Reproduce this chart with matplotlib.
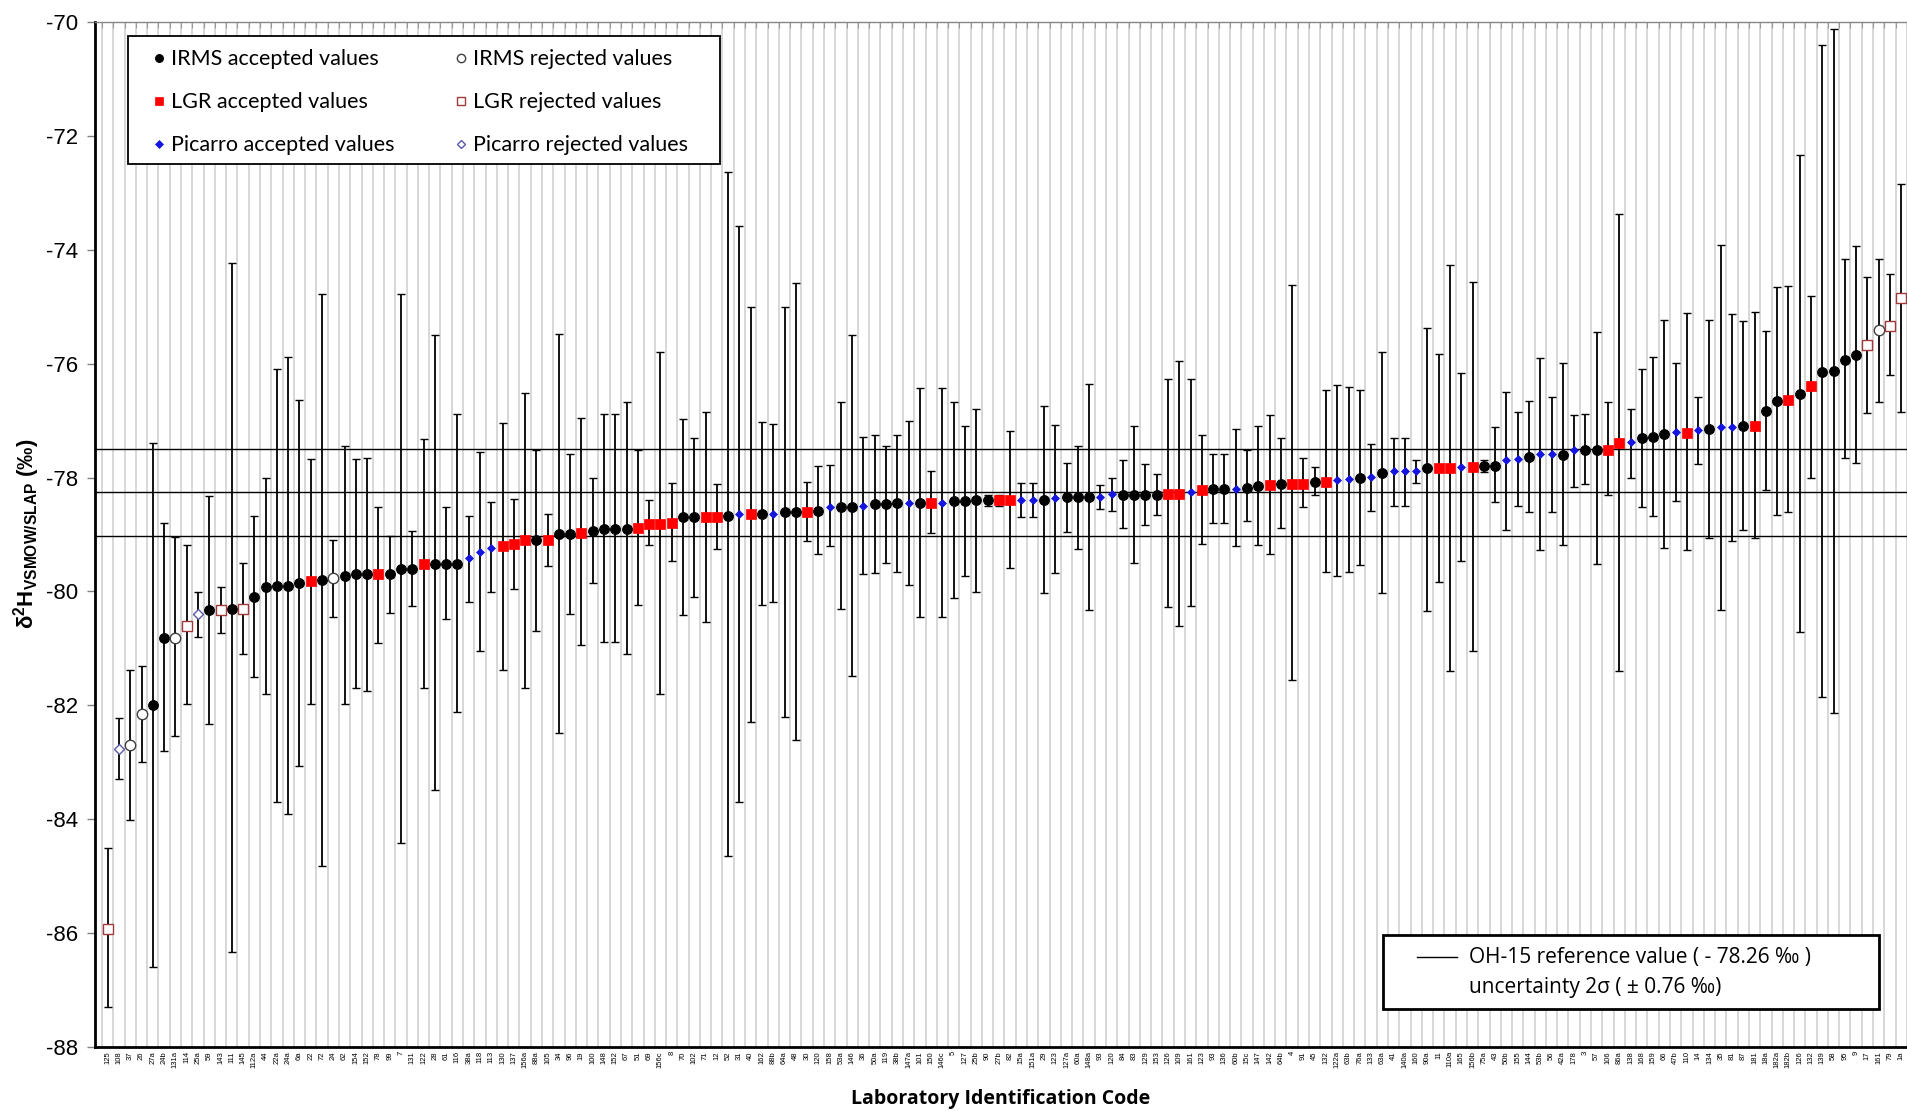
import numpy as np
import matplotlib
matplotlib.use('Agg')
import matplotlib.pyplot as plt
from matplotlib.lines import Line2D
from matplotlib.patches import Rectangle

plt.rcParams['axes.unicode_minus'] = False
plt.rcParams['font.family'] = ['Liberation Sans', 'DejaVu Sans']
plt.rcParams['mathtext.fontset'] = 'custom'
plt.rcParams['mathtext.rm'] = 'Liberation Sans'
plt.rcParams['mathtext.bf'] = 'Liberation Sans:bold'
plt.rcParams['mathtext.it'] = 'Liberation Sans:italic'

# ---------------- data ----------------
lab_codes = ["125", "108", "37", "26", "27a", "24b", "131a", "114", "25a", "59",
             "143", "111", "145", "112a", "44", "22a", "24a", "6a", "22", "72",
             "24", "62", "154", "152", "78", "99", "7", "131", "122", "28",
             "61", "116", "38a", "118", "113", "130", "137", "156a", "88a", "105",
             "34", "96", "19", "100", "148", "152", "67", "51", "69", "156c",
             "8", "70", "102", "71", "12", "52", "31", "40", "162", "88b",
             "64a", "48", "30", "120", "158", "53a", "146", "36", "50a", "119",
             "38b", "147a", "101", "150", "146c", "5", "127", "25b", "90", "27b",
             "82", "15a", "151a", "29", "123", "127a", "60a", "148a", "93", "120",
             "84", "83", "129", "153", "126", "109", "161", "123", "93", "136",
             "60b", "15c", "147", "142", "64b", "4", "91", "45", "132", "122a",
             "63b", "76a", "133", "63a", "41", "140a", "160", "90a", "11", "110a",
             "165", "156b", "75a", "43", "50b", "155", "144", "53b", "56", "42a",
             "178", "3", "57", "106", "86a", "138", "168", "159", "66", "47b",
             "110", "14", "134", "35", "81", "87", "181", "18a", "182a", "182b",
             "126", "132", "139", "58", "95", "9", "17", "161", "79", "1a"]

# group: I=IRMS, L=LGR, P=Picarro ; A=accepted, R=rejected
groups = ("LR PR IR IR IA IA IR LR PR IA "
          "LR IA LR IA IA IA IA IA LA IA "
          "IR IA IA IA LA IA IA IA LA IA "
          "IA IA PA PA PA LA LA LA IA LA "
          "IA IA LA IA IA IA IA LA LA LA "
          "LA IA IA LA LA IA PA LA IA PA "
          "IA IA LA IA PA IA IA PA IA IA "
          "IA PA IA LA PA IA IA IA IA LA "
          "LA PA PA IA PA IA IA IA PA PA "
          "IA IA IA IA LA LA PA LA IA IA "
          "PA IA IA LA IA LA LA IA LA PA "
          "PA IA PA IA PA PA PA IA LA LA "
          "PA LA IA IA PA PA IA PA PA IA "
          "PA IA IA LA LA PA IA IA IA PA "
          "LA PA IA PA PA IA LA IA IA LA "
          "IA LA IA IA IA IA LR IR LR LR").split()

values = [-85.92, -82.76, -82.69, -82.15, -82.00, -80.81, -80.81, -80.60, -80.39, -80.33,
          -80.33, -80.31, -80.31, -80.10, -79.92, -79.90, -79.90, -79.85, -79.82, -79.80,
          -79.76, -79.72, -79.70, -79.70, -79.70, -79.70, -79.61, -79.61, -79.51, -79.51,
          -79.51, -79.51, -79.41, -79.30, -79.23, -79.21, -79.16, -79.10, -79.10, -79.10,
          -78.99, -78.99, -78.97, -78.94, -78.91, -78.91, -78.91, -78.88, -78.81, -78.81,
          -78.79, -78.69, -78.69, -78.69, -78.69, -78.67, -78.64, -78.64, -78.64, -78.64,
          -78.60, -78.60, -78.60, -78.58, -78.51, -78.51, -78.51, -78.50, -78.46, -78.46,
          -78.44, -78.44, -78.44, -78.44, -78.44, -78.42, -78.42, -78.40, -78.40, -78.40,
          -78.40, -78.40, -78.40, -78.40, -78.36, -78.34, -78.34, -78.34, -78.34, -78.29,
          -78.30, -78.30, -78.30, -78.30, -78.28, -78.28, -78.25, -78.21, -78.20, -78.20,
          -78.20, -78.18, -78.15, -78.13, -78.11, -78.11, -78.11, -78.08, -78.08, -78.05,
          -78.03, -78.01, -77.99, -77.92, -77.88, -77.88, -77.88, -77.84, -77.84, -77.84,
          -77.81, -77.81, -77.80, -77.79, -77.70, -77.67, -77.64, -77.58, -77.58, -77.60,
          -77.51, -77.51, -77.51, -77.51, -77.40, -77.38, -77.31, -77.28, -77.24, -77.20,
          -77.22, -77.16, -77.14, -77.12, -77.12, -77.10, -77.09, -76.83, -76.66, -76.64,
          -76.53, -76.39, -76.15, -76.12, -75.93, -75.85, -75.68, -75.41, -75.33, -74.85]

bar_top = [-84.51, -82.23, -81.38, -81.31, -77.39, -78.80, -79.04, -79.19, -80.01, -78.32,
           -79.92, -74.24, -79.50, -78.68, -78.00, -76.09, -75.88, -76.63, -77.68, -74.78,
           -79.10, -77.45, -77.68, -77.66, -78.51, -79.02, -74.78, -78.94, -77.32, -75.49,
           -78.51, -76.89, -78.68, -77.55, -78.43, -77.04, -78.37, -76.52, -77.52, -78.64,
           -75.48, -77.59, -76.96, -78.00, -76.89, -76.89, -76.68, -77.52, -78.39, -75.80,
           -78.10, -76.98, -77.30, -76.84, -78.12, -72.63, -73.59, -75.00, -77.02, -77.06,
           -75.00, -74.59, -78.07, -77.80, -77.78, -76.68, -75.50, -77.29, -77.26, -77.44,
           -77.26, -77.00, -76.43, -77.88, -76.43, -76.68, -77.09, -76.79, -78.30, -78.30,
           -77.18, -78.10, -78.10, -76.75, -77.08, -77.74, -77.44, -76.35, -78.13, -78.01,
           -77.69, -77.09, -77.76, -77.93, -76.27, -75.95, -76.27, -77.26, -77.59, -77.59,
           -77.14, -77.52, -77.09, -76.90, -77.30, -74.62, -77.66, -77.82, -76.47, -76.38,
           -76.41, -76.47, -77.41, -75.80, -77.30, -77.30, -77.69, -75.37, -75.83, -74.26,
           -76.16, -74.57, -77.70, -77.11, -76.50, -76.84, -76.65, -75.90, -76.59, -75.99,
           -76.91, -76.89, -75.44, -76.68, -73.37, -76.79, -76.09, -75.88, -75.23, -75.99,
           -75.11, -76.58, -75.24, -73.91, -75.12, -75.25, -75.09, -75.43, -74.65, -74.63,
           -72.33, -74.82, -70.41, -70.12, -74.17, -73.93, -74.47, -74.17, -74.43, -72.84]

bar_bottom = [-87.30, -83.29, -84.01, -82.99, -86.60, -82.81, -82.54, -81.98, -80.80, -82.33,
              -80.73, -86.34, -81.10, -81.51, -81.80, -83.70, -83.90, -83.06, -81.97, -84.82,
              -80.44, -81.98, -81.69, -81.74, -80.90, -80.37, -84.41, -80.25, -81.69, -83.49,
              -80.49, -82.11, -80.18, -81.05, -80.01, -81.38, -79.96, -81.69, -80.69, -79.55,
              -82.49, -80.39, -80.94, -79.86, -80.89, -80.89, -81.10, -80.23, -79.18, -81.80,
              -79.46, -80.42, -80.09, -80.54, -79.25, -84.65, -83.70, -82.30, -80.23, -80.19,
              -82.20, -82.60, -79.11, -79.35, -79.20, -80.30, -81.48, -79.69, -79.67, -79.50,
              -79.65, -79.89, -80.44, -78.98, -80.44, -80.12, -79.72, -80.01, -78.50, -78.50,
              -79.59, -78.69, -78.69, -80.03, -79.67, -78.95, -79.25, -80.32, -78.55, -78.59,
              -78.89, -79.50, -78.83, -78.65, -80.27, -80.60, -80.25, -79.16, -78.80, -78.80,
              -79.21, -78.77, -79.19, -79.35, -78.89, -81.55, -78.51, -78.31, -79.65, -79.72,
              -79.65, -79.53, -78.58, -80.03, -78.50, -78.50, -78.09, -80.34, -79.84, -81.40,
              -79.47, -81.05, -77.90, -78.43, -78.92, -78.50, -78.61, -79.28, -78.60, -79.19,
              -78.16, -78.12, -79.52, -78.31, -81.40, -78.00, -78.51, -78.67, -79.23, -78.41,
              -79.28, -77.76, -79.07, -80.33, -79.12, -78.92, -79.07, -78.21, -78.66, -78.61,
              -80.72, -78.00, -81.86, -82.13, -77.65, -77.74, -76.87, -76.67, -76.20, -76.84]

ref_value = -78.26
ref_unc = 0.76
y_ticks = [-70, -72, -74, -76, -78, -80, -82, -84, -86, -88]

legend_labels = {
    'IA': 'IRMS accepted values', 'IR': 'IRMS rejected values',
    'LA': 'LGR accepted values', 'LR': 'LGR rejected values',
    'PA': 'Picarro accepted values', 'PR': 'Picarro rejected values',
}

# ---------------- styles ----------------
styles = {
    'IA': dict(marker='o', ms=7.0, mfc='black', mec='black', mew=0.8),
    'IR': dict(marker='o', ms=7.5, mfc='white', mec='#404040', mew=1.0),
    'LA': dict(marker='s', ms=7.2, mfc='#ff0000', mec='#ff0000', mew=0.5),
    'LR': dict(marker='s', ms=6.5, mfc='white', mec='#a03a3a', mew=1.0),
    'PA': dict(marker='D', ms=4.5, mfc='#1515e0', mec='#1515e0', mew=0.5),
    'PR': dict(marker='D', ms=5.5, mfc='white', mec='#5a5aa8', mew=1.0),
}

W, H = 1907, 1111
fig = plt.figure(figsize=(W / 100, H / 100), dpi=100)
ax_left, ax_right, ax_top, ax_bot = 95, 1907, 22, 1047
ax = fig.add_axes([ax_left / W, 1 - ax_bot / H, (ax_right - ax_left) / W, (ax_bot - ax_top) / H])

n = len(values)
x = np.arange(1, n + 1)
v = np.array(values)
top = np.array(bar_top)
bot = np.array(bar_bottom)

# vertical category gridlines
ax.set_xticks(np.arange(0.5, n + 1, 1.0), minor=True)
ax.grid(which='minor', axis='x', color='#d4d4d4', lw=1.3, zorder=0)
ax.set_axisbelow(True)

# reference lines
for yy in (ref_value + ref_unc, ref_value, ref_value - ref_unc):
    ax.axhline(yy, color='black', lw=1.0, zorder=2)

# error bars
ax.errorbar(x, v, yerr=[v - bot, top - v], fmt='none', ecolor='black',
            elinewidth=1.3, capsize=3.2, capthick=1.0, zorder=3)

# markers
g = np.array(groups)
for key in ['IA', 'IR', 'LA', 'LR', 'PA', 'PR']:
    m = g == key
    ax.plot(x[m], v[m], ls='none', zorder=4, **styles[key])

ax.set_xlim(-0.126, n + 0.51)
ax.set_ylim(-88, -70)
ax.set_yticks(y_ticks)
ax.set_yticklabels([str(t) for t in y_ticks], fontsize=16, family='Liberation Sans')
ax.set_xticks(x)
ax.set_xticklabels(lab_codes, rotation=90, fontsize=5.5, color='black')
ax.tick_params(axis='x', which='major', length=0, pad=3)
ax.tick_params(axis='x', which='minor', bottom=False, top=True, direction='in',
               length=4, color='#999999', width=0.8)
ax.tick_params(axis='y', which='major', length=6, width=1.0, color='#808080', pad=6)

for s in ['left', 'bottom']:
    ax.spines[s].set_linewidth(2.0)
    ax.spines[s].set_color('black')
ax.spines['top'].set_linewidth(1.0)
ax.spines['top'].set_color('#888888')
ax.spines['right'].set_visible(False)

ax.set_xlabel('Laboratory Identification Code', fontsize=14, fontweight='bold',
              family=['Open Sans', 'DejaVu Sans'], labelpad=15)
fig.text(27 / W, 1 - 534 / H,
         r'δ$^{\mathbf{2}}$H$_{\mathbf{VSMOW/SLAP}}$ (‰)',
         rotation=90, ha='center', va='center', fontsize=16, fontweight='bold',
         family=['Liberation Sans', 'DejaVu Sans'])

# top-left legend (frame drawn separately)
fig.add_artist(Rectangle((128 / W, 1 - 164 / H), (720 - 128) / W, (164 - 36.5) / H,
                         transform=fig.transFigure, facecolor='white',
                         edgecolor='black', lw=1.3, zorder=9))
handles = []
labels = []
for key in ['IA', 'LA', 'PA', 'IR', 'LR', 'PR']:
    st = dict(styles[key])
    st['ms'] = st['ms'] * 0.8
    handles.append(Line2D([], [], ls='none', **st))
    labels.append(legend_labels[key])
leg = fig.legend(handles, labels, ncol=2, loc='upper left',
                 bbox_to_anchor=(128 / W, 1 - 37.5 / H), bbox_transform=fig.transFigure,
                 prop={'family': ['Lato', 'DejaVu Sans'], 'size': 15.5},
                 frameon=False, borderaxespad=0, handlelength=1.8, handletextpad=-0.35,
                 columnspacing=2.2, labelspacing=1.07, borderpad=0.55)
leg.set_zorder(10)

# bottom-right legend (reference value box)
bx0, by0, bx1, by1 = 1383, 935, 1879, 1009
fig.add_artist(Rectangle((bx0 / W, 1 - by1 / H), (bx1 - bx0) / W, (by1 - by0) / H,
                         transform=fig.transFigure, fill=True, facecolor='white',
                         edgecolor='black', lw=2.0, zorder=10))
fig.add_artist(Line2D([1417 / W, 1457 / W], [1 - 957 / H, 1 - 957 / H],
                      transform=fig.transFigure, color='black', lw=1.0, zorder=11))
fig.text(1469 / W, 1 - 958 / H, 'OH-15 reference value ( - 78.26 ‰ )',
         fontsize=15, va='center', ha='left', family=['Open Sans', 'DejaVu Sans'], zorder=11)
fig.text(1469 / W, 1 - 987 / H, 'uncertainty 2σ ( ± 0.76 ‰)',
         fontsize=15, va='center', ha='left', family=['Open Sans', 'DejaVu Sans'], zorder=11)

fig.savefig('out.png', dpi=100)
